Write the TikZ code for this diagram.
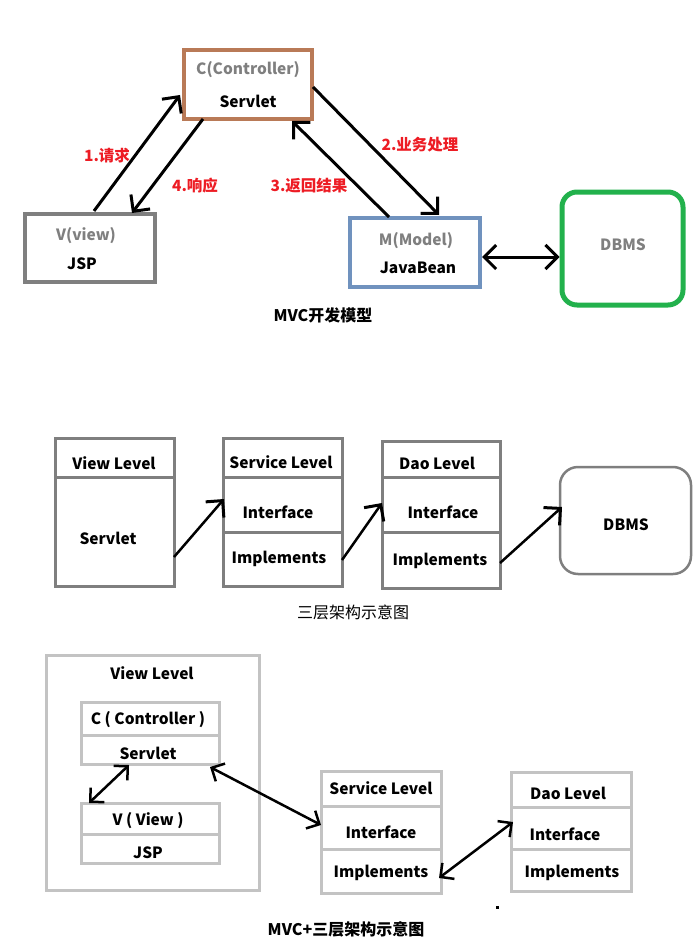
\documentclass[tikz,border=0pt]{standalone}
\usepackage{fontspec}
\setmainfont{Noto Sans CJK SC}
\usetikzlibrary{arrows.meta}
\definecolor{pbrown}{HTML}{B97A57}
\definecolor{pgray}{HTML}{7F7F7F}
\definecolor{pblue}{HTML}{7092BE}
\definecolor{pgreen}{HTML}{22B14C}
\definecolor{pred}{HTML}{ED1C24}
\definecolor{plight}{HTML}{C3C3C3}
\tikzset{
  box/.style={draw, minimum width=#1, inner sep=0pt},
  txt/.style={font=\fontsize{15.5}{18}\selectfont\bfseries, text=black, inner sep=0pt},
  gtxt/.style={font=\fontsize{15.5}{18}\selectfont\bfseries, text=pgray, inner sep=0pt},
  rtxt/.style={font=\fontsize{15.5}{18}\selectfont\bfseries, text=pred, inner sep=0pt},
  cellA/.style={draw=pgray, line width=3pt, inner sep=0pt, minimum width=#1},
  cellB/.style={draw=plight, line width=3pt, inner sep=0pt, minimum width=#1},
  arr/.style={line width=3pt, -{Straight Barb[length=12pt,width=24pt,line width=3pt]}},
  arrB/.style={line width=2.5pt, {Straight Barb[length=10pt,width=20pt,line width=2.5pt]}-{Straight Barb[length=10pt,width=20pt,line width=2.5pt]}},
}
\begin{document}
\begin{tikzpicture}[x=1pt,y=-1pt]
\useasboundingbox (0,0) rectangle (699,944);
% ---------- MVC model ----------
\node (c) [box=128pt, draw=pbrown, line width=4pt, minimum height=69pt] at (248,84.5) {};
\node (v) [box=130pt, draw=pgray, line width=4.5pt, minimum height=68pt] at (90,248) {};
\node (m) [box=130pt, draw=pblue, line width=4pt, minimum height=69pt] at (415,252.5) {};
\node (db) [box=121pt, draw=pgreen, line width=5pt, minimum height=113pt, rounded corners=15pt] at (622.5,248.5) {};
\node (ct) [gtxt] at (248,70) {C(Controller)};
\node (cs) [txt] at (248,101) {Servlet};
\node (vt) [gtxt] at (86,236) {V(view)};
\node (vj) [txt] at (82,264) {JSP};
\node (mt) [gtxt] at (416,241) {M(Model)};
\node (mj) [txt] at (418,268) {JavaBean};
\node (dbt) [gtxt] at (623,245) {DBMS};
\node (l1) [rtxt] at (107,156) {1.请求};
\node (l4) [rtxt] at (195,186) {4.响应};
\node (l3) [rtxt] at (309,186) {3.返回结果};
\node (l2) [rtxt] at (420,145) {2.业务处理};
\node (t1) [txt, font=\fontsize{16}{18}\selectfont\bfseries] at (323,315) {MVC开发模型};
\coordinate (a1s) at (94,211);  \coordinate (a1e) at (180,95);
\coordinate (a4s) at (203,119); \coordinate (a4e) at (132,213);
\coordinate (a2s) at (313,87);  \coordinate (a2e) at (439,215);
\coordinate (a3s) at (389,217); \coordinate (a3e) at (292,121);
\draw[arr] (a1s) -- (a1e);
\draw[arr] (a4s) -- (a4e);
\draw[arr] (a2s) -- (a2e);
\draw[arr] (a3s) -- (a3e);
\draw[line width=3pt, {Straight Barb[length=12pt,width=24pt,line width=3pt]}-{Straight Barb[length=12pt,width=24pt,line width=3pt]}] (m.east |- 0,257) -- (db.west |- 0,257);
% ---------- three layer ----------
\node (vh) [cellA=119pt, minimum height=39pt] at (114.5,457.5) {};
\node (vb) [cellA=119pt, minimum height=109pt] at (114.5,531.5) {};
\node (sh) [cellA=119pt, minimum height=39pt] at (282.5,457.5) {};
\node (si) [cellA=119pt, minimum height=55pt] at (282.5,504.5) {};
\node (sm) [cellA=119pt, minimum height=54pt] at (282.5,559) {};
\node (dh) [cellA=118pt, minimum height=36pt] at (441,459) {};
\node (di) [cellA=118pt, minimum height=55pt] at (441,504.5) {};
\node (dm) [cellA=118pt, minimum height=56pt] at (441,560) {};
\node (db2) [draw=pgray, line width=2.5pt, minimum width=131pt, minimum height=107pt, rounded corners=18pt, inner sep=0pt] at (625.5,520.5) {};
\node [txt] at (114,463) {View Level};
\node [txt] at (108,538) {Servlet};
\node [txt] at (281,462) {Service Level};
\node [txt] at (278,512) {Interface};
\node [txt] at (279,559) {Implements};
\node [txt] at (437,463) {Dao Level};
\node [txt] at (443,512) {Interface};
\node [txt] at (440,561) {Implements};
\node [txt] at (626,525) {DBMS};
\node (t2) [txt, font=\fontsize{16}{18}\selectfont] at (353,612) {三层架构示意图};
\coordinate (b1s) at (174,557); \coordinate (b1e) at (224,499);
\coordinate (b2s) at (342,560); \coordinate (b2e) at (382,503);
\coordinate (b3s) at (500,563); \coordinate (b3e) at (562,507);
\draw[arr, line width=2.5pt] (b1s) -- (b1e);
\draw[arr, line width=2.5pt] (b2s) -- (b2e);
\draw[arr, line width=2.5pt] (b3s) -- (b3e);
% ---------- MVC + three layer ----------
\node (outer) [cellB=213pt, minimum height=235pt] at (152.5,772.5) {};
\node (cc) [cellB=138pt, minimum height=33pt] at (150,718.5) {};
\node (cv) [cellB=138pt, minimum height=29pt] at (150,749.5) {};
\node (vv) [cellB=138pt, minimum height=31pt] at (150,818.5) {};
\node (vjsp) [cellB=138pt, minimum height=29pt] at (150,848.5) {};
\node (s2h) [cellB=120pt, minimum height=35pt] at (381,788.5) {};
\node (s2i) [cellB=120pt, minimum height=43pt] at (381,827.5) {};
\node (s2m) [cellB=120pt, minimum height=44pt] at (381,871) {};
\node (d2h) [cellB=120pt, minimum height=35pt] at (571,789.5) {};
\node (d2i) [cellB=120pt, minimum height=42pt] at (571,828) {};
\node (d2m) [cellB=120pt, minimum height=42pt] at (571,870) {};
\node [txt] at (152,673) {View Level};
\node [txt] at (148,720) {C ( Controller )};
\node [txt] at (148,753) {Servlet};
\node [txt] at (148,821) {V ( View )};
\node [txt] at (148,853) {JSP};
\node [txt] at (381,788) {Service Level};
\node [txt] at (381,832) {Interface};
\node [txt] at (381,873) {Implements};
\node [txt] at (568,793) {Dao Level};
\node [txt] at (565,834) {Interface};
\node [txt] at (572,873) {Implements};
\node (t3) [txt, font=\fontsize{16}{18}\selectfont\bfseries] at (346,929) {MVC+三层架构示意图};
\fill (496,906) rectangle (499,909);
\coordinate (c1s) at (89,803);  \coordinate (c1e) at (129,765);
\coordinate (c2s) at (210,767); \coordinate (c2e) at (321,825);
\coordinate (c3s) at (439,878); \coordinate (c3e) at (513,822);
\draw[arrB] (c1s) -- (c1e);
\draw[arrB] (c2s) -- (c2e);
\draw[arrB] (c3s) -- (c3e);
\end{tikzpicture}
\end{document}
